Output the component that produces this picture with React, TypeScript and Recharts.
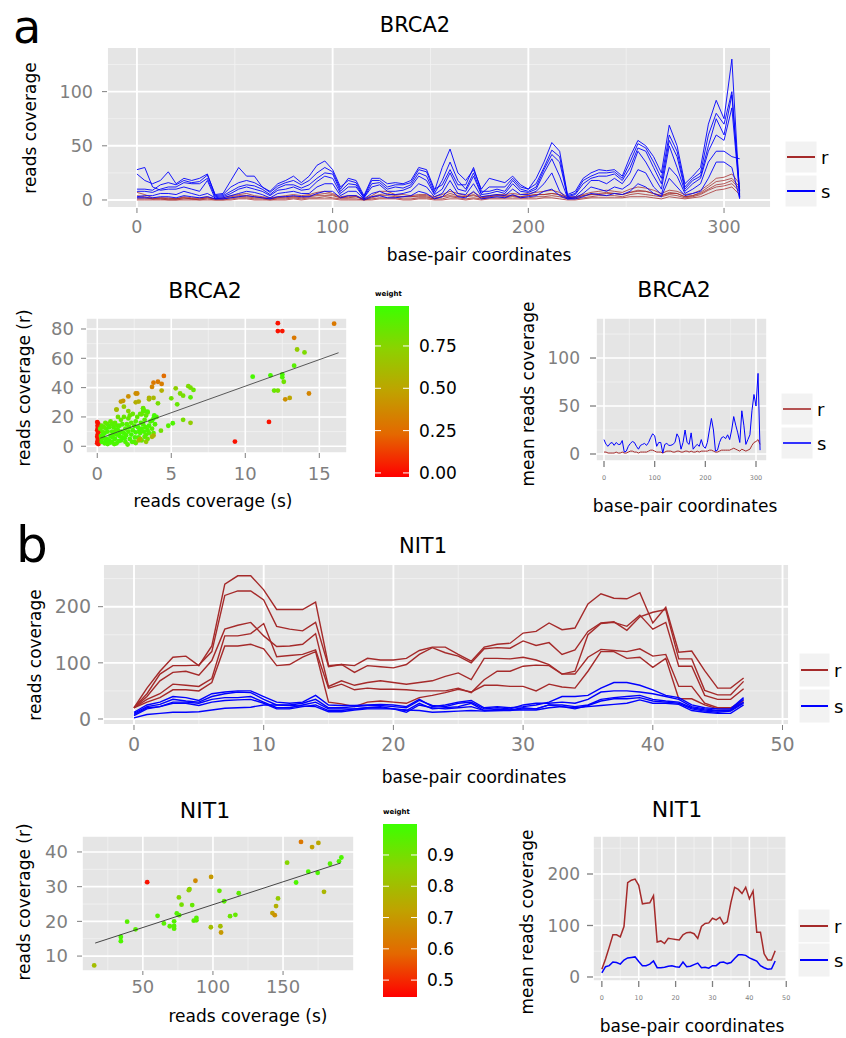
import React from 'react';
import { LineChart, Line, XAxis, YAxis, CartesianGrid, ScatterChart, Scatter } from 'recharts';

const FONT = '"DejaVu Sans", Verdana, sans-serif';
const GREY = '#7F7F7F';
const PANEL = '#E5E5E5';
const MINOR = '#F2F2F2';
const RED = '#A52A2A';
const BLUE = '#0000FF';

// ---------- BRCA2: coverage per sample, every 4 bp ----------
const brcaBp = [0, 4, 8, 12, 16, 20, 24, 28, 32, 36, 40, 44, 48, 52, 56, 60, 64, 68, 72, 76, 80, 84, 88, 92, 96, 100, 104, 108, 112, 116, 120, 124, 128, 132, 136, 140, 144, 148, 152, 156, 160, 164, 168, 172, 176, 180, 184, 188, 192, 196, 200, 204, 208, 212, 216, 220, 224, 228, 232, 236, 240, 244, 248, 252, 256, 260, 264, 268, 272, 276, 280, 284, 288, 292, 296, 300, 304, 308];

const brcaR1 = [7, 5, 2, 2, 1, 1, 2, 1, 1, 2, 1, 1, 3, 4, 4, 3, 2, 1, 2, 3, 3, 3, 4, 5, 6, 5, 2, 3, 3, 1, 3, 5, 6, 4, 3, 3, 4, 4, 2, 3, 6, 4, 3, 5, 2, 3, 4, 3, 4, 3, 4, 5, 5, 6, 5, 2, 2, 4, 5, 6, 7, 6, 5, 7, 9, 8, 6, 4, 6, 6, 3, 4, 6, 10, 14, 15, 18, 10];
const brcaR2 = [4, 3, 1, 2, 2, 1, 3, 2, 2, 3, 1, 2, 4, 5, 6, 4, 3, 2, 3, 4, 5, 4, 5, 7, 8, 6, 3, 4, 4, 1, 4, 8, 8, 5, 5, 4, 5, 5, 3, 5, 8, 6, 4, 7, 3, 4, 5, 5, 6, 5, 6, 7, 8, 9, 7, 3, 3, 5, 7, 8, 9, 8, 7, 10, 12, 11, 9, 6, 9, 8, 5, 6, 9, 14, 20, 21, 24, 15];
const brcaR3 = [2, 2, 1, 1, 1, 1, 2, 1, 1, 2, 1, 1, 2, 3, 3, 2, 2, 1, 2, 2, 3, 2, 3, 4, 4, 4, 2, 2, 3, 0, 2, 4, 4, 3, 3, 3, 3, 3, 1, 3, 4, 3, 3, 4, 2, 3, 4, 4, 4, 3, 4, 5, 5, 6, 5, 2, 2, 4, 5, 5, 6, 6, 5, 7, 8, 8, 6, 4, 7, 6, 3, 4, 7, 12, 17, 18, 20, 12];
const brcaR4 = [1, 1, 1, 1, 0, 0, 1, 1, 0, 1, 0, 0, 1, 2, 2, 1, 1, 0, 1, 1, 2, 1, 2, 2, 3, 2, 1, 1, 1, 0, 1, 2, 2, 2, 1, 1, 2, 2, 1, 1, 3, 2, 1, 2, 1, 2, 2, 2, 3, 2, 2, 3, 3, 4, 3, 1, 1, 2, 3, 4, 4, 4, 3, 5, 6, 5, 4, 3, 5, 4, 2, 3, 5, 9, 12, 13, 15, 8];
const brcaR5 = [0, 0, 0, 0, 0, 0, 0, 0, 0, 0, 0, 0, 0, 1, 1, 0, 0, 0, 0, 0, 1, 0, 1, 1, 1, 1, 0, 0, 0, 0, 0, 1, 1, 1, 0, 0, 1, 1, 0, 0, 1, 1, 0, 1, 0, 1, 1, 1, 1, 1, 1, 1, 2, 2, 1, 0, 0, 1, 2, 2, 2, 2, 2, 3, 3, 3, 2, 1, 3, 2, 1, 2, 3, 6, 9, 10, 12, 5];

const brcaS1 = [28, 30, 12, 9, 10, 10, 12, 10, 8, 18, 1, 2, 4, 6, 8, 7, 5, 2, 6, 7, 8, 6, 6, 12, 15, 15, 4, 8, 8, 1, 6, 8, 5, 5, 6, 8, 15, 12, 3, 6, 18, 6, 5, 15, 3, 4, 5, 4, 10, 5, 5, 8, 15, 25, 8, 1, 2, 6, 12, 10, 8, 12, 10, 15, 28, 25, 12, 5, 30, 22, 6, 10, 15, 35, 45, 45, 40, 38];
const brcaS2 = [24, 18, 15, 18, 26, 15, 20, 18, 20, 24, 4, 5, 12, 16, 18, 16, 12, 7, 13, 16, 18, 14, 18, 25, 30, 26, 10, 20, 18, 4, 20, 20, 15, 16, 15, 18, 30, 28, 10, 14, 28, 14, 14, 30, 8, 8, 10, 8, 18, 10, 8, 12, 28, 42, 35, 3, 5, 15, 20, 22, 22, 24, 18, 30, 48, 45, 30, 15, 55, 40, 10, 18, 22, 50, 75, 60, 97, 5];
const brcaS3 = [10, 10, 9, 14, 16, 14, 18, 16, 17, 23, 5, 6, 18, 30, 22, 22, 12, 8, 15, 18, 22, 16, 22, 32, 36, 28, 12, 18, 16, 3, 18, 18, 12, 14, 14, 16, 28, 26, 8, 30, 47, 25, 18, 28, 10, 20, 18, 16, 22, 14, 10, 20, 35, 53, 45, 5, 8, 20, 25, 28, 27, 28, 22, 40, 55, 50, 40, 25, 69, 50, 15, 22, 30, 70, 92, 75, 130, 2];
const brcaS4 = [8, 8, 7, 10, 12, 12, 16, 15, 15, 20, 3, 4, 8, 12, 14, 13, 10, 5, 11, 14, 14, 11, 14, 20, 25, 24, 8, 15, 14, 2, 15, 16, 10, 12, 11, 14, 25, 22, 6, 18, 35, 18, 10, 25, 6, 12, 12, 12, 20, 12, 10, 15, 30, 46, 40, 4, 6, 18, 22, 25, 25, 26, 20, 35, 52, 48, 35, 20, 60, 45, 12, 20, 25, 60, 80, 70, 100, 8];
const brcaS5 = [3, 4, 4, 6, 6, 5, 8, 6, 4, 6, 2, 3, 6, 10, 12, 10, 8, 4, 9, 10, 12, 9, 10, 17, 22, 20, 6, 12, 12, 2, 12, 14, 8, 8, 9, 12, 22, 18, 5, 10, 25, 10, 8, 22, 5, 6, 8, 6, 15, 8, 7, 10, 25, 38, 22, 2, 3, 10, 18, 18, 15, 20, 15, 25, 45, 35, 22, 10, 50, 30, 8, 15, 20, 45, 60, 55, 85, 3];
const brcaS6 = [2, 2, 2, 3, 3, 2, 4, 3, 2, 3, 1, 1, 2, 3, 4, 3, 2, 1, 3, 3, 4, 3, 3, 6, 8, 8, 2, 4, 4, 0, 3, 4, 2, 2, 3, 4, 8, 6, 1, 3, 10, 3, 2, 8, 1, 2, 3, 2, 5, 2, 3, 4, 8, 10, 4, 1, 1, 3, 6, 5, 4, 6, 5, 8, 15, 12, 6, 3, 20, 12, 4, 6, 8, 20, 35, 35, 30, 1];

const brcaMeanR = [2, 2, 1, 1, 1, 1, 2, 1, 1, 2, 1, 1, 2, 3, 3, 2, 2, 1, 2, 2, 2, 2, 3, 4, 4, 3, 2, 2, 2, 1, 2, 3, 3, 3, 2, 2, 3, 3, 2, 2, 3, 3, 2, 3, 2, 2, 3, 2, 3, 3, 3, 3, 4, 4, 3, 2, 2, 3, 4, 4, 4, 4, 4, 5, 6, 5, 4, 3, 5, 4, 3, 4, 5, 9, 12, 13, 15, 10];
const brcaMeanS = [15, 10, 8, 11, 12, 9, 12, 10, 10, 14, 2, 3, 8, 11, 13, 12, 8, 5, 9, 10, 11, 9, 12, 17, 21, 19, 8, 12, 12, 1, 10, 11, 9, 9, 10, 12, 21, 17, 5, 12, 25, 12, 10, 22, 5, 8, 10, 8, 15, 8, 6, 12, 25, 37, 25, 3, 4, 12, 17, 18, 16, 20, 15, 25, 39, 30, 22, 12, 45, 30, 10, 15, 20, 45, 62, 50, 84, 4];

// BRCA2 scatter: [coverage s, coverage r, weight]
const brcaPoints = [
  [0.0, 2, 0.02], [0.02, 3.5, 0.02], [0.05, 5, 0.03], [0.0, 6.5, 0.02], [0.03, 8, 0.02], [0.07, 9.5, 0.03],
  [0.0, 11, 0.02], [0.04, 12.5, 0.02], [0.02, 14, 0.03], [0.06, 15.5, 0.02], [0.1, 4, 0.04], [0.1, 7, 0.04],
  [0.1, 10, 0.04], [0.12, 13, 0.05], [0.0, 16.5, 0.02], [0.08, 1.5, 0.03],
  [0.3, 3, 0.95], [0.4, 6, 0.96], [0.5, 9, 0.95], [0.6, 12, 0.94], [0.7, 15, 0.9], [0.5, 2, 0.95],
  [0.8, 4, 0.96], [0.9, 7, 0.95], [1.0, 10, 0.93], [1.1, 13, 0.92], [1.2, 16, 0.88], [0.7, 1.5, 0.93],
  [1.0, 3, 0.95], [1.2, 5, 0.96], [1.3, 8, 0.95], [1.4, 11, 0.94], [1.5, 14, 0.92], [1.6, 18, 0.87],
  [1.3, 2, 0.94], [1.6, 4, 0.95], [1.7, 6, 0.96], [1.8, 9, 0.95], [1.9, 12, 0.93], [2.0, 15, 0.9],
  [2.1, 19, 0.86], [2.2, 21, 0.85], [1.9, 3, 0.93], [2.2, 5, 0.95], [2.3, 8, 0.96], [2.4, 11, 0.94],
  [2.5, 14, 0.92], [2.6, 17, 0.9], [2.7, 20, 0.87], [2.5, 3, 0.9], [2.8, 6, 0.93], [2.9, 9, 0.95],
  [3.0, 12, 0.94], [3.1, 15, 0.93], [3.2, 18, 0.9], [3.3, 21, 0.88], [3.0, 4, 0.85], [3.3, 8, 0.9],
  [3.4, 11, 0.93], [3.5, 14, 0.94], [3.6, 17, 0.92], [0.35, 10, 0.9], [0.45, 13, 0.88], [0.25, 7, 0.92],
  [0.55, 16, 0.86], [1.8, 20, 0.85], [1.4, 20, 0.82], [2.9, 22, 0.86], [0.9, 17, 0.85], [2.4, 22, 0.84],
  [3.7, 12, 0.9], [3.8, 9, 0.88], [3.9, 15, 0.92], [4.0, 20, 0.93], [0.65, 5, 0.95], [1.15, 1.5, 0.93],
  [2.05, 1.2, 0.9], [2.6, 2.2, 0.88], [3.4, 5, 0.85], [1.55, 9.5, 0.96], [2.75, 13, 0.95], [3.15, 10, 0.94],
  [0.3, 5, 0.94], [0.4, 8, 0.95], [0.6, 4, 0.96], [0.7, 10, 0.94], [0.8, 13, 0.92], [0.9, 2.5, 0.95],
  [1.05, 6, 0.96], [1.1, 8.5, 0.95], [1.25, 11, 0.93], [1.35, 14, 0.91], [1.45, 3.5, 0.95], [1.5, 7, 0.96],
  [1.65, 10, 0.95], [1.7, 15, 0.91], [1.85, 5.5, 0.96], [1.95, 7.5, 0.95], [2.1, 10, 0.94], [2.15, 13, 0.93],
  [2.3, 16, 0.9], [2.35, 3, 0.92], [2.55, 6, 0.94], [2.6, 9.5, 0.95], [2.85, 11, 0.94], [2.95, 16, 0.92],
  [3.2, 6.5, 0.9], [3.25, 13, 0.93], [3.5, 9, 0.92], [0.2, 12, 0.9], [0.3, 14, 0.88], [1.0, 15, 0.9],
  [1.3, 25, 0.65], [1.8, 27, 0.7], [2.6, 30, 0.55], [3.1, 26, 0.75], [3.2, 24, 0.8], [3.4, 23, 0.8],
  [2.1, 24, 0.75], [3.8, 7.3, 0.55], [3.7, 6.5, 0.6], [2.8, 4, 0.65], [2.9, 5, 0.6], [3.3, 3, 0.7],
  [3.85, 21, 0.95], [3.8, 19, 0.96], [3.7, 17.5, 0.95], [4.1, 29.3, 0.8], [3.1, 24, 0.9], [3.1, 25.7, 0.88],
  [3.4, 23.6, 0.92], [3.0, 21.8, 0.85], [4.3, 10.6, 0.82], [4.8, 14, 0.9], [5.1, 15.7, 0.93], [5.8, 18, 0.8],
  [6.3, 16, 0.7], [6.3, 33.4, 0.9], [6.5, 38.4, 0.85], [6.15, 41, 0.78], [6.3, 40, 0.8], [5.6, 36, 0.78],
  [5.8, 34.5, 0.8], [5.4, 28.6, 0.85], [5.0, 32.7, 0.82], [5.3, 39.5, 0.72],
  [4.5, 48, 0.25], [4.1, 44, 0.3], [4.35, 42.5, 0.32], [3.8, 43.4, 0.3], [3.7, 40.5, 0.35], [4.35, 38, 0.55],
  [3.8, 33, 0.6], [3.5, 33, 0.55], [3.5, 32, 0.6], [2.8, 30.5, 0.55], [2.6, 36, 0.4], [2.7, 36, 0.38],
  [2.1, 34, 0.4], [1.75, 31, 0.42], [1.6, 30.5, 0.45], [1.3, 25, 0.6],
  [16.0, 83.6, 0.3], [12.2, 84, 0.02], [12.2, 78.6, 0.02], [12.5, 78.6, 0.03], [13.3, 74, 0.3], [13.5, 66, 0.7],
  [14.0, 64, 0.78], [13.3, 55, 0.9], [10.5, 47.5, 0.95], [11.7, 48.4, 0.95], [12.5, 49, 0.95], [12.5, 47, 0.93],
  [12.6, 44, 0.82], [11.95, 38, 0.85], [12.2, 38, 0.8], [12.7, 32, 0.4], [13.0, 33, 0.5], [14.3, 36, 0.35],
  [11.6, 16.6, 0.02], [9.3, 3.2, 0.02],
];
const brcaFit = [{ s: 0.2, r: 5.5 }, { s: 16.3, r: 63.8 }];

// ---------- NIT1: coverage per sample, every bp ----------
const nitBp = [0, 1, 2, 3, 4, 5, 6, 7, 8, 9, 10, 11, 12, 13, 14, 15, 16, 17, 18, 19, 20, 21, 22, 23, 24, 25, 26, 27, 28, 29, 30, 31, 32, 33, 34, 35, 36, 37, 38, 39, 40, 41, 42, 43, 44, 45, 46, 47];

const nitR1 = [20, 55, 85, 110, 112, 95, 130, 240, 255, 255, 230, 195, 195, 195, 208, 95, 97, 95, 108, 105, 105, 108, 122, 128, 128, 115, 103, 128, 133, 135, 153, 156, 171, 159, 162, 205, 223, 215, 214, 225, 171, 199, 119, 121, 86, 55, 55, 73];
const nitR2 = [20, 45, 80, 95, 95, 96, 120, 220, 228, 228, 212, 165, 160, 157, 172, 93, 97, 83, 95, 93, 91, 97, 115, 127, 118, 112, 100, 125, 127, 126, 139, 131, 136, 115, 123, 156, 171, 173, 158, 182, 190, 195, 107, 107, 51, 43, 43, 67];
const nitR3 = [20, 40, 68, 83, 85, 78, 104, 160, 167, 172, 148, 129, 130, 133, 152, 58, 68, 60, 65, 68, 65, 62, 65, 68, 76, 82, 70, 108, 108, 107, 110, 105, 97, 80, 85, 150, 170, 172, 165, 185, 160, 172, 94, 94, 42, 35, 35, 54];
const nitR4 = [20, 35, 45, 62, 60, 58, 72, 148, 148, 152, 170, 111, 113, 115, 123, 55, 62, 52, 55, 53, 53, 52, 50, 50, 50, 55, 47, 70, 85, 85, 94, 96, 95, 80, 80, 110, 124, 122, 120, 125, 112, 115, 58, 58, 28, 20, 20, 33];
const nitR5 = [20, 30, 38, 52, 52, 50, 65, 130, 130, 133, 125, 95, 97, 110, 120, 30, 27, 22, 30, 32, 30, 28, 38, 42, 47, 53, 48, 60, 60, 58, 58, 50, 62, 57, 55, 85, 120, 120, 108, 110, 92, 108, 36, 36, 25, 18, 18, 30];

const nitS1 = [12, 25, 30, 40, 38, 33, 45, 48, 50, 50, 40, 30, 28, 30, 42, 25, 24, 24, 25, 26, 25, 22, 35, 22, 25, 30, 33, 20, 22, 20, 22, 25, 30, 40, 40, 42, 55, 65, 65, 60, 52, 42, 38, 25, 20, 18, 18, 38];
const nitS2 = [10, 22, 26, 35, 32, 30, 40, 45, 48, 47, 35, 25, 25, 28, 35, 20, 20, 22, 24, 24, 22, 20, 33, 24, 22, 28, 30, 18, 20, 18, 25, 28, 28, 30, 28, 35, 48, 50, 50, 48, 45, 40, 35, 22, 18, 15, 16, 35];
const nitS3 = [8, 20, 22, 30, 30, 28, 35, 38, 38, 40, 30, 20, 20, 25, 30, 18, 18, 18, 20, 22, 18, 15, 28, 18, 20, 22, 28, 15, 17, 16, 20, 18, 25, 25, 22, 25, 35, 38, 40, 42, 35, 32, 30, 20, 16, 14, 15, 30];
const nitS4 = [6, 18, 22, 28, 28, 24, 30, 33, 34, 35, 28, 18, 18, 22, 25, 15, 15, 18, 20, 20, 18, 12, 25, 20, 18, 20, 22, 15, 15, 15, 18, 18, 25, 22, 18, 24, 32, 36, 36, 38, 32, 30, 28, 18, 14, 12, 14, 28];
const nitS5 = [2, 8, 10, 12, 12, 13, 16, 19, 20, 21, 25, 25, 24, 23, 22, 13, 13, 16, 18, 18, 18, 16, 15, 12, 13, 14, 15, 14, 15, 16, 16, 16, 20, 22, 20, 22, 24, 26, 28, 34, 28, 28, 26, 15, 12, 10, 10, 25];

const nitMeanR = [15, 35, 58, 82, 82, 78, 98, 183, 188, 190, 178, 142, 143, 144, 158, 68, 70, 65, 75, 74, 73, 72, 82, 86, 87, 84, 75, 98, 104, 105, 114, 111, 116, 103, 107, 145, 174, 170, 162, 174, 152, 167, 87, 87, 45, 33, 33, 51];
const nitMeanS = [8, 20, 22, 29, 28, 25, 33, 37, 38, 39, 30, 22, 22, 25, 31, 18, 18, 19, 21, 22, 20, 19, 29, 20, 21, 24, 27, 18, 19, 17, 22, 22, 28, 29, 26, 28, 36, 43, 43, 42, 37, 34, 31, 22, 18, 15, 16, 31];

// NIT1 scatter: [coverage s, coverage r, weight]
const nitPoints = [
  [15.3, 7.3, 0.8], [34.3, 15.5, 0.97], [34.3, 14.3, 0.97], [38.8, 19.9, 0.95], [44.8, 17.7, 0.95],
  [53.1, 31.3, 0.47], [60.5, 21.6, 0.95], [65, 19.4, 0.95], [69.2, 18.6, 0.95], [72.3, 20, 0.96],
  [72.3, 18.7, 0.96], [72.3, 17.9, 0.95], [74.2, 22.3, 0.96], [75.7, 26.9, 0.88], [75.9, 21.8, 0.96],
  [77.6, 24.8, 0.9], [82.8, 29, 0.85], [83.3, 29.3, 0.86], [85.2, 24.7, 0.93], [86.3, 20.2, 0.95],
  [87.5, 31.7, 0.66], [88.2, 21, 0.96], [88.2, 20.3, 0.95], [98.7, 32.8, 0.7], [98.5, 18.3, 0.8],
  [104.6, 28.8, 0.93], [105.3, 18.6, 0.8], [105.8, 16.8, 0.7], [108, 25.8, 0.95], [112.2, 21.5, 0.92],
  [116, 21.9, 0.93], [118.4, 28.1, 0.94], [142.4, 22.4, 0.72], [144.1, 21.8, 0.68], [145, 24.4, 0.76],
  [146.4, 26.6, 0.84], [152.9, 36.9, 0.87], [159.3, 31.2, 0.97], [162.8, 42.9, 0.62], [168, 34.3, 0.97],
  [170.7, 41.4, 0.72], [174.7, 34, 0.97], [175.2, 42.6, 0.74], [179.2, 28.5, 0.78], [183.5, 36.6, 0.96],
  [189.9, 37.3, 0.97], [191.6, 38.4, 0.97],
];
const nitFit = [{ s: 16, r: 13.75 }, { s: 191, r: 36.8 }];

const brcaWeightTicks = [0, 0.25, 0.5, 0.75];
const nitWeightTicks = [0.5, 0.6, 0.7, 0.8, 0.9];

// ---------- helpers ----------
const GRAD: [number, number[]][] = [
  [0, [255, 0, 0]],
  [0.25, [228, 104, 0]],
  [0.5, [192, 162, 0]],
  [0.75, [140, 210, 0]],
  [1, [60, 255, 0]],
];

function colorAt(t: number) {
  const u = Math.max(0, Math.min(1, t));
  for (let i = 1; i < GRAD.length; i++) {
    const [t1, c1] = GRAD[i];
    const [t0, c0] = GRAD[i - 1];
    if (u <= t1) {
      const f = (u - t0) / (t1 - t0);
      const c = c0.map((v, k) => Math.round(v + (c1[k] - v) * f));
      return `rgb(${c[0]},${c[1]},${c[2]})`;
    }
  }
  return 'rgb(60,255,0)';
}

type Panel = { left: number; top: number; right: number; bottom: number };

// chart box so that the plot area lands on the panel; extra right room for end tick labels
const box = (p: Panel, yw: number, xh: number, extra = 0) => ({
  style: { position: 'absolute' as const, left: p.left - yw, top: p.top },
  width: p.right - p.left + yw + extra,
  height: p.bottom - p.top + xh,
  margin: { top: 0, right: extra, bottom: 0, left: 0 },
});

const tickStyle = (size: number) => ({ fill: GREY, fontSize: size, fontFamily: FONT });

const rowsOf = (bp: number[], series: Record<string, number[]>) =>
  bp.map((x, i) => {
    const row: Record<string, number> = { bp: x };
    Object.keys(series).forEach((k) => (row[k] = series[k][i]));
    return row;
  });

const brcaRows = rowsOf(brcaBp, {
  r1: brcaR1, r2: brcaR2, r3: brcaR3, r4: brcaR4, r5: brcaR5,
  s1: brcaS1, s2: brcaS2, s3: brcaS3, s4: brcaS4, s5: brcaS5, s6: brcaS6,
});
const brcaMeanRows = rowsOf(brcaBp, { r: brcaMeanR, s: brcaMeanS });
const nitRows = rowsOf(nitBp, {
  r1: nitR1, r2: nitR2, r3: nitR3, r4: nitR4, r5: nitR5,
  s1: nitS1, s2: nitS2, s3: nitS3, s4: nitS4, s5: nitS5,
});
const nitMeanRows = rowsOf(nitBp, { r: nitMeanR, s: nitMeanS });

const R_KEYS5 = ['r1', 'r2', 'r3', 'r4', 'r5'];
const S_KEYS6 = ['s1', 's2', 's3', 's4', 's5', 's6'];
const S_KEYS5 = ['s1', 's2', 's3', 's4', 's5'];

// panels (plot areas, page pixels)
const P_BRCA: Panel = { left: 107, top: 47, right: 771, bottom: 208 };
const P_BRCA_SC: Panel = { left: 86, top: 318, right: 347, bottom: 453 };
const P_BRCA_MEAN: Panel = { left: 596, top: 318, right: 767, bottom: 461 };
const P_NIT: Panel = { left: 103, top: 564, right: 789, bottom: 725 };
const P_NIT_SC: Panel = { left: 82, top: 836, right: 354, bottom: 971 };
const P_NIT_MEAN: Panel = { left: 593, top: 836, right: 787, bottom: 981 };

function pointShape(lo: number, hi: number) {
  return (props: any) => {
    const w = props.payload ? props.payload.w : 1;
    return <circle cx={props.cx} cy={props.cy} r={2.4} fill={colorAt((w - lo) / (hi - lo))} />;
  };
}

const noShape = () => <g />;

function Colorbar({ x, top, bottom, lo, hi, ticks, digits, id }: any) {
  const h = bottom - top;
  const yOf = (v: number) => bottom - ((v - lo) / (hi - lo)) * h;
  return (
    <g>
      <defs>
        <linearGradient id={id} x1="0" y1="1" x2="0" y2="0">
          {GRAD.map(([t, c]) => (
            <stop key={t} offset={t} stopColor={`rgb(${c[0]},${c[1]},${c[2]})`} />
          ))}
        </linearGradient>
      </defs>
      <text x={x} y={top - 10} fontSize={7} fontWeight="bold" fill="#000">weight</text>
      <rect x={x} y={top} width={34} height={h} fill={`url(#${id})`} />
      {ticks.map((v: number) => (
        <g key={v}>
          <line x1={x} x2={x + 6} y1={yOf(v)} y2={yOf(v)} stroke="#fff" strokeWidth={1} />
          <line x1={x + 28} x2={x + 34} y1={yOf(v)} y2={yOf(v)} stroke="#fff" strokeWidth={1} />
          <text x={x + 44} y={yOf(v)} fontSize={17} dominantBaseline="central" fill="#000">
            {v.toFixed(digits)}
          </text>
        </g>
      ))}
    </g>
  );
}

function LegendKeys({ x, y, w, h, gap, lw }: any) {
  return (
    <g>
      {[['r', RED], ['s', BLUE]].map(([k, c], i) => {
        const top = y + i * (h + gap);
        return (
          <g key={k}>
            <rect x={x} y={top} width={w} height={h} fill={MINOR} stroke="#fff" strokeWidth={1} />
            <line x1={x + 2} x2={x + w - 2} y1={top + h / 2} y2={top + h / 2} stroke={c} strokeWidth={lw} />
            <text x={x + w + 4} y={top + h / 2} fontSize={18} dominantBaseline="central" fill="#000">{k}</text>
          </g>
        );
      })}
    </g>
  );
}

function VText({ x, y, children }: any) {
  return (
    <text x={x} y={y} transform={`rotate(-90 ${x} ${y})`} textAnchor="middle" dominantBaseline="central" fontSize={17} fill="#000">
      {children}
    </text>
  );
}

function Title({ x, y, size, children }: any) {
  return (
    <text x={x} y={y} textAnchor="middle" fontSize={size} fill="#000">{children}</text>
  );
}

export default function App() {
  const b1 = box(P_BRCA, 60, 40);
  const b2 = box(P_BRCA_SC, 60, 40);
  const b3 = box(P_BRCA_MEAN, 60, 30);
  const b4 = box(P_NIT, 60, 40, 14);
  const b5 = box(P_NIT_SC, 60, 40);
  const b6 = box(P_NIT_MEAN, 60, 30, 10);

  return (
    <div style={{ position: 'absolute', left: 0, top: 0, width: 846, height: 1038, background: '#fff', overflow: 'hidden', fontFamily: FONT }}>
      {/* BRCA2 all samples */}
      <div style={b1.style}>
        <LineChart width={b1.width} height={b1.height} data={brcaRows} margin={b1.margin}>
          <CartesianGrid fill={PANEL} fillOpacity={1} stroke={MINOR} strokeWidth={0.8} horizontalValues={[25, 75, 125]} verticalValues={[50, 150, 250]} />
          <CartesianGrid stroke="#fff" strokeWidth={1.9} />
          <XAxis dataKey="bp" type="number" domain={[-15.3, 324]} allowDataOverflow ticks={[0, 100, 200, 300]} interval={0}
            axisLine={false} tickLine={{ stroke: GREY }} tickSize={5} tickMargin={8} height={40} tick={tickStyle(17.5)} />
          <YAxis type="number" domain={[-7.4, 141.2]} allowDataOverflow ticks={[0, 50, 100]} interval={0}
            axisLine={false} tickLine={{ stroke: GREY }} tickSize={5} tickMargin={9} width={60} tick={tickStyle(17.5)} />
          {R_KEYS5.map((k) => (
            <Line key={k} dataKey={k} type="linear" stroke={RED} strokeWidth={0.9} strokeOpacity={0.85} dot={false} isAnimationActive={false} />
          ))}
          {S_KEYS6.map((k) => (
            <Line key={k} dataKey={k} type="linear" stroke={BLUE} strokeWidth={0.9} dot={false} isAnimationActive={false} />
          ))}
        </LineChart>
      </div>

      {/* BRCA2 scatter */}
      <div style={b2.style}>
        <ScatterChart width={b2.width} height={b2.height} margin={b2.margin}>
          <CartesianGrid fill={PANEL} fillOpacity={1} stroke={MINOR} strokeWidth={0.8} horizontalValues={[10, 30, 50, 70]} verticalValues={[2.5, 7.5, 12.5]} />
          <CartesianGrid stroke="#fff" strokeWidth={1.6} />
          <XAxis dataKey="s" type="number" domain={[-0.76, 16.87]} allowDataOverflow ticks={[0, 5, 10, 15]} interval={0}
            axisLine={false} tickLine={{ stroke: GREY }} tickSize={5} tickMargin={9} height={40} tick={tickStyle(18)} />
          <YAxis dataKey="r" type="number" domain={[-4.6, 87.5]} allowDataOverflow ticks={[0, 20, 40, 60, 80]} interval={0}
            axisLine={false} tickLine={{ stroke: GREY }} tickSize={5} tickMargin={7} width={60} tick={tickStyle(18)} />
          <Scatter data={brcaPoints.map(([s, r, w]) => ({ s, r, w }))} shape={pointShape(-0.024, 0.986)} isAnimationActive={false} />
          <Scatter data={brcaFit} line={{ stroke: '#333', strokeWidth: 0.8 }} shape={noShape} isAnimationActive={false} />
        </ScatterChart>
      </div>

      {/* BRCA2 mean */}
      <div style={b3.style}>
        <LineChart width={b3.width} height={b3.height} data={brcaMeanRows} margin={b3.margin}>
          <CartesianGrid fill={PANEL} fillOpacity={1} stroke={MINOR} strokeWidth={0.8} horizontalValues={[25, 75, 125]} verticalValues={[50, 150, 250]} />
          <CartesianGrid stroke="#fff" strokeWidth={1.6} />
          <XAxis dataKey="bp" type="number" domain={[-15.8, 321.7]} allowDataOverflow ticks={[0, 100, 200, 300]} interval={0}
            axisLine={false} tickLine={{ stroke: GREY, strokeWidth: 1.3 }} tickSize={6} tickMargin={8} height={30} tick={tickStyle(6.5)} />
          <YAxis type="number" domain={[-7.3, 141.7]} allowDataOverflow ticks={[0, 50, 100]} interval={0}
            axisLine={false} tickLine={{ stroke: GREY, strokeWidth: 1.3 }} tickSize={6} tickMargin={10} width={60} tick={tickStyle(17)} />
          <Line dataKey="r" type="linear" stroke={RED} strokeWidth={1} dot={false} isAnimationActive={false} />
          <Line dataKey="s" type="linear" stroke={BLUE} strokeWidth={1} dot={false} isAnimationActive={false} />
        </LineChart>
      </div>

      {/* NIT1 all samples */}
      <div style={b4.style}>
        <LineChart width={b4.width} height={b4.height} data={nitRows} margin={b4.margin}>
          <CartesianGrid fill={PANEL} fillOpacity={1} stroke={MINOR} strokeWidth={0.8} horizontalValues={[50, 150, 250]} verticalValues={[5, 15, 25, 35, 45]} />
          <CartesianGrid stroke="#fff" strokeWidth={1.9} />
          <XAxis dataKey="bp" type="number" domain={[-2.39, 50.5]} allowDataOverflow ticks={[0, 10, 20, 30, 40, 50]} interval={0}
            axisLine={false} tickLine={{ stroke: GREY }} tickSize={5} tickMargin={8} height={40} tick={tickStyle(19)} />
          <YAxis type="number" domain={[-10.7, 276]} allowDataOverflow ticks={[0, 100, 200]} interval={0}
            axisLine={false} tickLine={{ stroke: GREY }} tickSize={5} tickMargin={7} width={60} tick={tickStyle(19)} />
          {R_KEYS5.map((k) => (
            <Line key={k} dataKey={k} type="linear" stroke={RED} strokeWidth={1.4} dot={false} isAnimationActive={false} />
          ))}
          {S_KEYS5.map((k) => (
            <Line key={k} dataKey={k} type="linear" stroke={BLUE} strokeWidth={1.4} dot={false} isAnimationActive={false} />
          ))}
        </LineChart>
      </div>

      {/* NIT1 scatter */}
      <div style={b5.style}>
        <ScatterChart width={b5.width} height={b5.height} margin={b5.margin}>
          <CartesianGrid fill={PANEL} fillOpacity={1} stroke={MINOR} strokeWidth={0.8} horizontalValues={[15, 25, 35]} verticalValues={[25, 75, 125, 175]} />
          <CartesianGrid stroke="#fff" strokeWidth={1.6} />
          <XAxis dataKey="s" type="number" domain={[6.6, 200.6]} allowDataOverflow ticks={[50, 100, 150]} interval={0}
            axisLine={false} tickLine={{ stroke: GREY }} tickSize={4} tickMargin={5} height={40} tick={tickStyle(18)} />
          <YAxis dataKey="r" type="number" domain={[5.7, 44.6]} allowDataOverflow ticks={[10, 20, 30, 40]} interval={0}
            axisLine={false} tickLine={{ stroke: GREY }} tickSize={5} tickMargin={9} width={60} tick={tickStyle(18)} />
          <Scatter data={nitPoints.map(([s, r, w]) => ({ s, r, w }))} shape={pointShape(0.446, 0.999)} isAnimationActive={false} />
          <Scatter data={nitFit} line={{ stroke: '#333', strokeWidth: 0.9 }} shape={noShape} isAnimationActive={false} />
        </ScatterChart>
      </div>

      {/* NIT1 mean */}
      <div style={b6.style}>
        <LineChart width={b6.width} height={b6.height} data={nitMeanRows} margin={b6.margin}>
          <CartesianGrid fill={PANEL} fillOpacity={1} stroke={MINOR} strokeWidth={0.8} horizontalValues={[50, 150, 250]} verticalValues={[5, 15, 25, 35, 45]} />
          <CartesianGrid stroke="#fff" strokeWidth={1.6} />
          <XAxis dataKey="bp" type="number" domain={[-2.4, 50.2]} allowDataOverflow ticks={[0, 10, 20, 30, 40, 50]} interval={0}
            axisLine={false} tickLine={{ stroke: GREY, strokeWidth: 1.3 }} tickSize={6} tickMargin={8} height={30} tick={tickStyle(6.5)} />
          <YAxis type="number" domain={[-7.8, 273.8]} allowDataOverflow ticks={[0, 100, 200]} interval={0}
            axisLine={false} tickLine={{ stroke: GREY, strokeWidth: 1.3 }} tickSize={6} tickMargin={7} width={60} tick={tickStyle(17)} />
          <Line dataKey="r" type="linear" stroke={RED} strokeWidth={1.5} dot={false} isAnimationActive={false} />
          <Line dataKey="s" type="linear" stroke={BLUE} strokeWidth={1.5} dot={false} isAnimationActive={false} />
        </LineChart>
      </div>

      {/* text, legends, colour bars */}
      <svg width={846} height={1038} style={{ position: 'absolute', left: 0, top: 0, pointerEvents: 'none' }} fontFamily={FONT}>
        <text x={13} y={43} fontSize={46} fill="#000">a</text>
        <text x={16} y={562} fontSize={50} fill="#000">b</text>

        <Title x={415} y={32} size={21}>BRCA2</Title>
        <Title x={205} y={298} size={22}>BRCA2</Title>
        <Title x={674} y={297} size={22}>BRCA2</Title>
        <Title x={423} y={553} size={21}>NIT1</Title>
        <Title x={205} y={818} size={22}>NIT1</Title>
        <Title x={677} y={817} size={22}>NIT1</Title>

        <VText x={30} y={128}>reads coverage</VText>
        <Title x={479} y={261} size={17}>base-pair coordinates</Title>
        <VText x={24} y={388}>reads coverage (r)</VText>
        <Title x={213} y={507} size={17}>reads coverage (s)</Title>
        <VText x={528} y={394}>mean reads coverage</VText>
        <Title x={685} y={512} size={17}>base-pair coordinates</Title>

        <VText x={35} y={655}>reads coverage</VText>
        <Title x={474} y={783} size={17}>base-pair coordinates</Title>
        <VText x={24} y={902}>reads coverage (r)</VText>
        <Title x={248} y={1022} size={17}>reads coverage (s)</Title>
        <VText x={527} y={922}>mean reads coverage</VText>
        <Title x={692} y={1032} size={17}>base-pair coordinates</Title>

        <LegendKeys x={785} y={141} w={32} h={32} gap={2} lw={2} />
        <LegendKeys x={781} y={393} w={32} h={32} gap={2} lw={1.6} />
        <LegendKeys x={799} y={653} w={31} h={34} gap={2} lw={2} />
        <LegendKeys x={798} y={909} w={32} h={34} gap={0} lw={2} />

        <Colorbar id="wa" x={375} top={306} bottom={477} lo={-0.024} hi={0.986} ticks={brcaWeightTicks} digits={2} />
        <Colorbar id="wb" x={383} top={824} bottom={997} lo={0.446} hi={0.999} ticks={nitWeightTicks} digits={1} />
      </svg>
    </div>
  );
}
